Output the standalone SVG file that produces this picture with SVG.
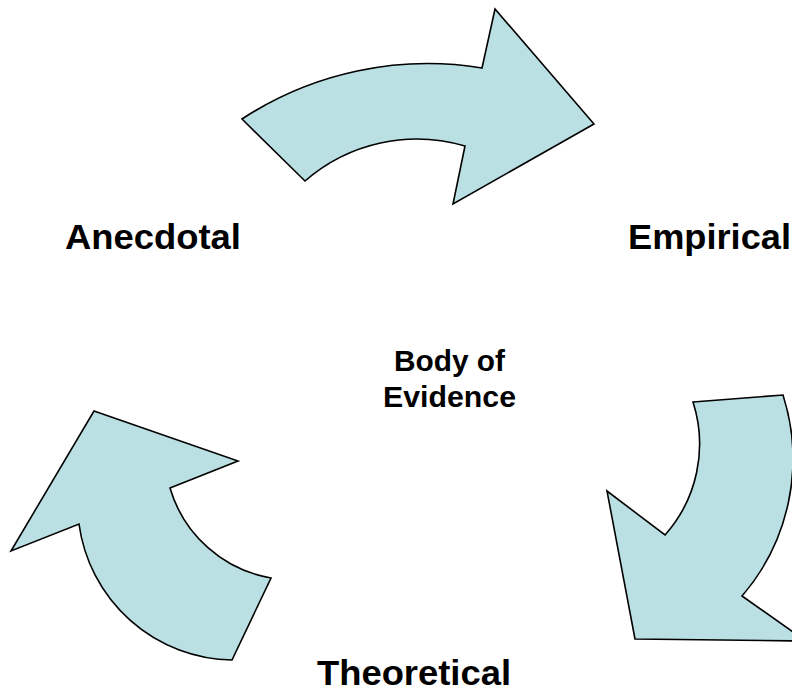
<svg xmlns="http://www.w3.org/2000/svg" width="792" height="696" viewBox="0 0 792 696">
<style>
.arrow{fill:#BBE0E3;stroke:#000;stroke-width:1.6;stroke-linejoin:miter}
.lbl{font-family:"Liberation Sans",Arial,sans-serif;font-weight:bold;fill:#000}
</style>
<rect width="792" height="696" fill="#fff"/>
<g id="connectors">
<path id="arrow-top" class="arrow" d="M242,119 A339,339 0 0 1 482,68 L495,9 L594,124 L453,204 L465,146 A170,170 0 0 0 305,181 Z"/>
<path id="arrow-right" class="arrow" d="M693,402 L783,395 A210,210 0 0 1 742,596 L806,641 L635,639 L607,491 L665,535 A137,137 0 0 0 693,402 Z"/>
<path id="arrow-left" class="arrow" d="M94,411 L238,461 L170,488 A128,128 0 0 0 271,578 L232,660 A157,157 0 0 1 79,524 L11,551 Z"/>
</g>
<g id="node-anecdotal"><text class="lbl" x="65" y="249" font-size="35" textLength="176" lengthAdjust="spacingAndGlyphs">Anecdotal</text></g>
<g id="node-empirical"><text class="lbl" x="628" y="249" font-size="35" textLength="163" lengthAdjust="spacingAndGlyphs">Empirical</text></g>
<g id="node-theoretical"><text class="lbl" x="317" y="685" font-size="35" textLength="194" lengthAdjust="spacingAndGlyphs">Theoretical</text></g>
<g id="node-body">
<text class="lbl" x="394" y="371" font-size="29" textLength="111" lengthAdjust="spacingAndGlyphs">Body of</text>
<text class="lbl" x="383" y="407" font-size="29" textLength="133" lengthAdjust="spacingAndGlyphs">Evidence</text>
</g>
</svg>
